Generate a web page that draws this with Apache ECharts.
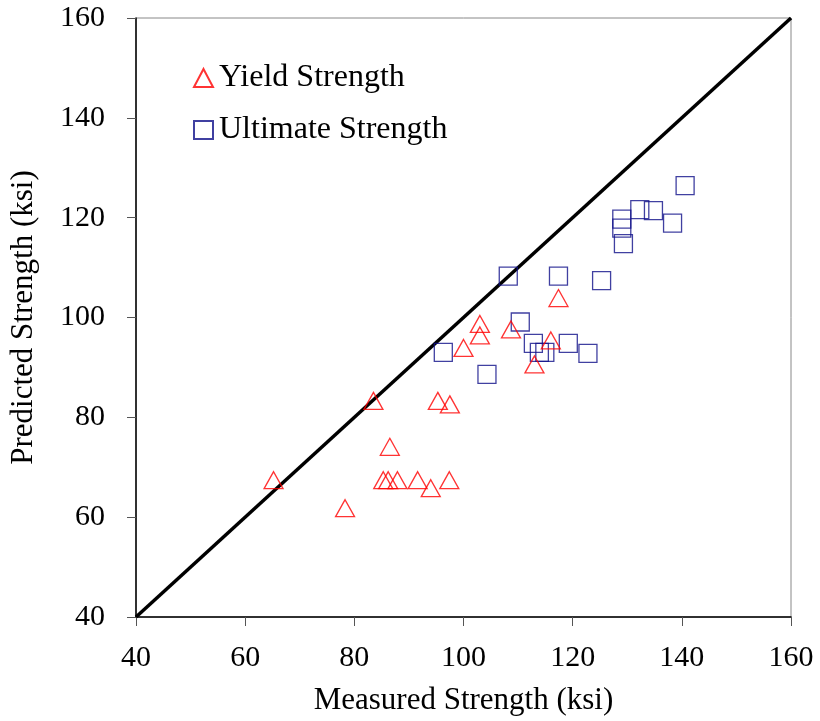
<!DOCTYPE html>
<html>
<head>
<meta charset="utf-8">
<script src="https://cdn.jsdelivr.net/npm/echarts@6/dist/echarts.min.js"></script>
<style>
html,body{margin:0;padding:0;background:#fff;}
#c{width:820px;height:721px;}
</style>
</head>
<body>
<div id="c"></div>
<script>
const xTicks = [40, 60, 80, 100, 120, 140, 160];
const yTicks = [40, 60, 80, 100, 120, 140, 160];

const yieldMeasured = [65.2, 83.5, 78.3, 86.5, 85.3, 86.2, 87.9, 91.6, 97.4, 94.0, 95.3, 97.5, 103.0, 103.0, 100.0, 108.7, 117.4, 116.0, 113.0];
const yieldPredicted = [67.4, 83.3, 61.8, 74.1, 67.4, 67.4, 67.4, 67.4, 67.4, 65.8, 83.3, 82.6, 98.7, 96.4, 93.9, 97.6, 103.9, 95.4, 90.6];

const ultMeasured = [108.2, 117.4, 125.3, 110.4, 96.3, 112.8, 113.9, 114.9, 119.2, 122.8, 104.3, 140.6, 132.3, 134.8, 129.0, 129.0, 129.3, 138.3];
const ultPredicted = [108.3, 108.3, 107.4, 99.1, 93.0, 94.8, 93.0, 93.0, 94.8, 92.8, 88.6, 126.4, 121.6, 121.4, 119.7, 117.9, 114.8, 118.9];

const lineX = [40, 160];
const lineY = [40, 160];

const FONT = 'Liberation Serif';
const chart = echarts.init(document.getElementById('c'), null, {renderer: 'canvas'});

const pairs = (a, b) => a.map((v, i) => [v, b[i]]);

chart.setOption({
  animation: false,
  backgroundColor: '#fff',
  textStyle: {fontFamily: FONT, color: '#000'},
  grid: {left: 136, right: 29, top: 18, bottom: 103, show: true, borderColor: '#888', borderWidth: 1},
  legend: {
    orient: 'vertical',
    left: 193,
    top: 62,
    padding: 0,
    itemWidth: 19,
    itemHeight: 18,
    itemGap: 20,
    textStyle: {fontFamily: FONT, fontSize: 32, color: '#000', padding: [0, 0, 0, 1]},
    data: ['Yield Strength', 'Ultimate Strength']
  },
  xAxis: {
    type: 'value', min: xTicks[0], max: xTicks[xTicks.length - 1], interval: 20,
    name: 'Measured Strength (ksi)', nameLocation: 'middle', nameGap: 68,
    nameTextStyle: {fontFamily: FONT, fontSize: 31, color: '#000'},
    axisLine: {show: true, onZero: false, lineStyle: {color: '#000', width: 1.5}},
    axisTick: {show: true, inside: false, length: 9, lineStyle: {color: '#555', width: 1}},
    axisLabel: {fontFamily: FONT, fontSize: 30, color: '#000', margin: 26},
    splitLine: {show: false}
  },
  yAxis: {
    type: 'value', min: yTicks[0], max: yTicks[yTicks.length - 1], interval: 20,
    name: 'Predicted Strength (ksi)', nameLocation: 'middle', nameGap: 97, nameRotate: 90,
    nameTextStyle: {fontFamily: FONT, fontSize: 31, color: '#000'},
    axisLine: {show: true, onZero: false, lineStyle: {color: '#000', width: 1.5}},
    axisTick: {show: true, inside: false, length: 9, lineStyle: {color: '#555', width: 1}},
    axisLabel: {fontFamily: FONT, fontSize: 30, color: '#000', margin: 31},
    splitLine: {show: false}
  },
  series: [
    {
      type: 'line', name: 'line', data: pairs(lineX, lineY), symbol: 'none',
      lineStyle: {color: '#000', width: 3.5}, z: 1, silent: true
    },
    {
      type: 'scatter', name: 'Yield Strength', data: pairs(yieldMeasured, yieldPredicted),
      symbol: 'triangle', symbolSize: [19, 17],
      itemStyle: {color: 'rgba(255,255,255,0)', borderColor: '#ff0000', borderWidth: 1.3}, z: 3
    },
    {
      type: 'scatter', name: 'Ultimate Strength', data: pairs(ultMeasured, ultPredicted),
      symbol: 'rect', symbolSize: 18,
      itemStyle: {color: 'rgba(255,255,255,0)', borderColor: '#10108a', borderWidth: 1.3}, z: 2
    }
  ]
});
</script>
</body>
</html>
